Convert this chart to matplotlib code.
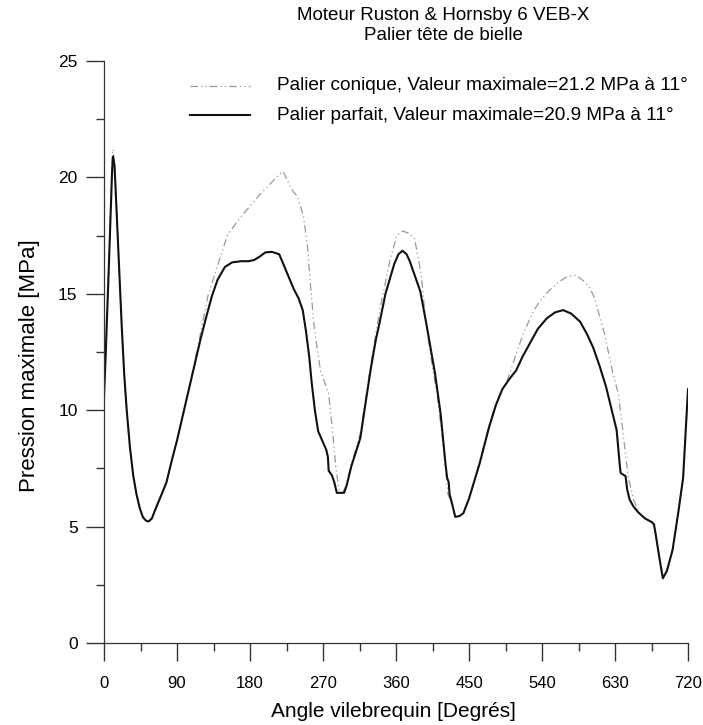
import matplotlib
matplotlib.use("Agg")
import matplotlib.pyplot as plt
from matplotlib.lines import Line2D
from matplotlib.ticker import MultipleLocator

plt.rcParams['font.family'] = ['Liberation Sans', 'DejaVu Sans']

# Palier parfait (trait plein) : angle [deg], pression [MPa]
angle_parfait = [0, 2, 4, 6, 8, 10, 11, 13, 16, 19, 22, 25, 28, 32, 36, 40, 44, 48,
                 52, 55, 59, 64, 70, 77, 84, 90, 96, 102, 110, 119, 126, 133, 140,
                 149, 158, 169, 178, 185, 192, 199, 207, 216, 222, 228, 234, 240,
                 245, 249, 253, 256, 260, 264, 269, 274, 276, 277, 281, 283, 284,
                 287, 296, 299, 305, 316, 322, 329, 335, 340, 347, 353, 358, 363,
                 368, 373, 377, 383, 390, 398, 408, 415, 421, 423, 425, 426, 429,
                 433, 438, 443, 450, 456, 463, 469, 475, 483, 491, 500, 508, 516,
                 525, 535, 546, 556, 566, 576, 587, 595, 603, 611, 619, 626, 632,
                 636, 637, 643, 645, 648, 653, 659, 667, 675, 678, 680, 685, 689,
                 694, 701, 708, 714, 720]
pression_parfait = [10.6, 12.3, 14.2, 16.2, 18.3, 20.3, 20.9, 20.5, 18.2, 15.8, 13.5,
                    11.5, 10.0, 8.4, 7.2, 6.4, 5.8, 5.4, 5.25, 5.22, 5.35, 5.8, 6.3,
                    6.9, 7.9, 8.7, 9.6, 10.5, 11.7, 13.05, 14.0, 14.9, 15.6, 16.15,
                    16.35, 16.4, 16.4, 16.45, 16.6, 16.78, 16.8, 16.7, 16.2, 15.7,
                    15.2, 14.8, 14.3, 13.4, 12.3, 11.2, 10.0, 9.1, 8.7, 8.3, 8.0,
                    7.4, 7.2, 7.0, 6.9, 6.45, 6.45, 6.75, 7.6, 8.8, 10.2, 11.8,
                    13.0, 13.8, 15.0, 15.7, 16.3, 16.7, 16.85, 16.7, 16.4, 15.8,
                    15.1, 13.6, 11.6, 9.85, 7.7, 7.1, 6.9, 6.4, 6.0, 5.42, 5.45,
                    5.57, 6.2, 6.9, 7.7, 8.5, 9.3, 10.2, 10.9, 11.35, 11.7, 12.3,
                    12.87, 13.5, 13.95, 14.2, 14.3, 14.15, 13.8, 13.3, 12.7, 11.9,
                    11.0, 10.0, 9.15, 7.6, 7.3, 7.17, 6.6, 6.16, 5.85, 5.6, 5.35,
                    5.2, 5.1, 4.7, 3.6, 2.78, 3.1, 4.0, 5.6, 7.1, 10.9]

# Palier conique (trait mixte)
angle_conique = [0, 2, 4, 6, 8, 10, 11, 13, 16, 19, 22, 25, 28, 32, 36, 40, 44, 48,
                 52, 55, 59, 64, 70, 77, 84, 90, 96, 102, 110, 119, 128, 140, 152,
                 164, 176, 193, 207, 215, 221, 227, 233, 238, 242, 246, 251, 255,
                 259, 263, 267, 272, 277, 282, 286, 290, 294, 299, 305, 316, 329,
                 340, 347, 353, 361, 368, 376, 383, 391, 395, 401, 411, 417, 421,
                 424, 429, 433, 438, 443, 450, 456, 463, 475, 484, 496, 507, 517,
                 530, 540, 549, 560, 572, 580, 587, 593, 599, 605, 610, 617, 623,
                 628, 634, 640, 644, 647, 650, 653, 660, 665, 670, 677, 679, 680,
                 685, 689, 694, 701, 708, 714, 720]
pression_conique = [10.6, 12.4, 14.3, 16.3, 18.5, 20.6, 21.2, 20.7, 18.3, 15.8, 13.5,
                    11.5, 10.0, 8.4, 7.2, 6.4, 5.8, 5.4, 5.25, 5.22, 5.35, 5.8, 6.3,
                    6.9, 7.9, 8.7, 9.6, 10.5, 11.8, 13.3, 14.9, 16.2, 17.5, 18.1,
                    18.6, 19.3, 19.8, 20.1, 20.25, 19.8, 19.4, 19.2, 18.8, 18.3,
                    17.0, 15.2, 13.6, 12.6, 11.7, 11.2, 10.7, 9.0, 7.5, 6.5, 6.45,
                    6.8, 7.7, 9.0, 12.0, 14.3, 15.5, 16.5, 17.5, 17.7, 17.6, 17.35,
                    15.85, 14.4, 12.7, 10.6, 8.85, 7.56, 6.4, 5.95, 5.42, 5.45,
                    5.6, 6.2, 6.9, 7.8, 9.4, 10.4, 11.15, 12.3, 13.3, 14.3, 14.8,
                    15.15, 15.5, 15.75, 15.8, 15.67, 15.5, 15.25, 14.8, 14.16, 13.3,
                    12.3, 11.5, 10.73, 9.0, 7.8, 7.0, 6.6, 6.14, 5.6, 5.4, 5.29,
                    5.2, 5.1, 4.7, 3.6, 2.78, 3.1, 4.0, 5.6, 7.1, 10.9]

titre = ["Moteur Ruston & Hornsby 6 VEB-X", "Palier tête de bielle"]
legende = ["Palier conique, Valeur maximale=21.2 MPa à 11°",
           "Palier parfait, Valeur maximale=20.9 MPa à 11°"]
x_ticks = [0, 90, 180, 270, 360, 450, 540, 630, 720]
y_ticks = [0, 5, 10, 15, 20, 25]

W, H = 703, 725
fig = plt.figure(figsize=(W / 100, H / 100), dpi=100)
ax = fig.add_axes([104 / W, 1 - 643 / H, 584 / W, 582 / H])

style_conique = dict(color='#9a9a9a', lw=0.9, linestyle=(0, (6, 2.5, 1, 2.5, 1, 2.5)))
style_parfait = dict(color='#111111', lw=1.5, solid_joinstyle='round')

ax.plot(angle_conique, pression_conique, **style_conique)
ax.plot(angle_parfait, pression_parfait, **style_parfait)

ax.set_xlim(0, 720)
ax.set_ylim(0, 25)
ax.set_xticks(x_ticks)
ax.set_yticks(y_ticks)
ax.xaxis.set_minor_locator(MultipleLocator(45))
ax.yaxis.set_minor_locator(MultipleLocator(2.5))
for s in ('top', 'right'):
    ax.spines[s].set_visible(False)
for s in ('left', 'bottom'):
    ax.spines[s].set_linewidth(0.9)
    ax.spines[s].set_color('#333333')
ax.tick_params(axis='x', which='major', length=13, width=1.0, pad=11, labelsize=12, color='#333333')
ax.tick_params(axis='y', which='major', length=13, width=1.0, pad=6, labelsize=12.5, color='#333333')
ax.tick_params(which='minor', length=6, width=1.0, color='#333333')

ax.set_xlabel("Angle vilebrequin [Degrés]", fontsize=15)
ax.xaxis.set_label_coords(0.496, -0.102)
ax.set_ylabel("Pression maximale [MPa]", fontsize=16)
ax.yaxis.set_label_coords(-0.11, 0.476)

# titre sur deux lignes
fig.text(443 / W, 1 - 16 / H, titre[0], ha='center', va='center', fontsize=13.5)
fig.text(443 / W, 1 - 35 / H, titre[1], ha='center', va='center', fontsize=13.5)

# légende manuelle
for (y, txt, st) in [(86, legende[0], style_conique), (115, legende[1], style_parfait)]:
    yf = 1 - y / H
    fig.add_artist(Line2D([190 / W, 250 / W], [yf, yf], transform=fig.transFigure, **st))
    fig.text(277 / W, yf, txt, ha='left', va='center', fontsize=13.7)

fig.savefig("out.png", dpi=100)
